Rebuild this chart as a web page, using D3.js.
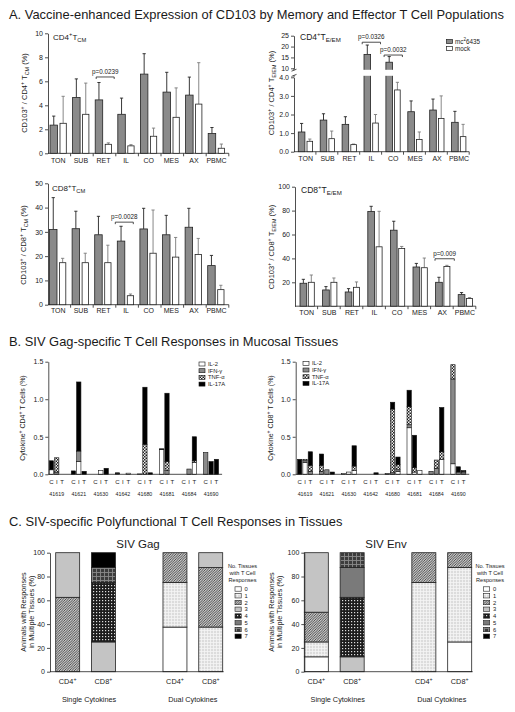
<!DOCTYPE html>
<html><head><meta charset="utf-8">
<script src="https://cdn.jsdelivr.net/npm/d3@7"></script>
<style>
body{margin:0;background:#fff}
svg{display:block}
text{font-family:"Liberation Sans",Arial,sans-serif;fill:#1a1a1a}
</style>
</head><body>
<svg id="c" width="515" height="712"></svg>
<script>
// ---------------- DATA ----------------
const tissues = ["TON","SUB","RET","IL","CO","MES","AX","PBMC"];
const groupNames = ["mc²6435","mock"];
// Panel A: CD103+ percentages (mean) and upper error (SEM)
const cd4cmVac = [2.35,4.65,4.45,3.25,6.6,5.1,4.85,1.65];
const cd4cmVacSem = [0.75,1.55,1.45,1.35,1.7,1.65,1.5,0.5];
const cd4cmMock = [2.5,3.25,0.75,0.62,1.42,3.0,4.1,0.42];
const cd4cmMockSem = [2.25,2.6,0.12,0.1,0.68,2.45,3.45,0.35];

const cd4emVac = [1.06,1.70,1.47,16.4,12.8,2.15,2.24,1.58];
const cd4emVacSem = [0.46,0.34,0.41,4.3,2.6,0.58,0.59,0.59];
const cd4emMock = [0.56,0.70,0.38,1.54,3.32,0.66,1.79,0.81];
const cd4emMockSem = [0.12,0.41,0.03,0.46,0.41,0.40,1.21,0.66];

const cd8cmVac = [31.0,31.3,28.8,26.2,31.2,28.8,31.9,16.1];
const cd8cmVacSem = [13.1,7.2,7.6,6.1,8.5,8.0,7.8,4.2];
const cd8cmMock = [17.3,17.3,17.3,3.7,21.2,19.6,20.7,6.2];
const cd8cmMockSem = [1.8,3.9,7.2,0.7,17.8,8.1,6.6,1.8];

const cd8emVac = [19.2,13.6,11.9,79.2,63.6,32.8,20.0,9.7];
const cd8emVacSem = [3.3,2.8,2.8,4.4,7.5,3.0,4.2,1.7];
const cd8emMock = [20.0,20.0,15.8,49.7,48.3,32.2,33.3,6.4];
const cd8emMockSem = [6.1,3.6,4.5,29.7,1.7,8.1,0.9,0.8];

const cd4cmTicks = [0,2,4,6,8,10];
const cd4emTicksLow = [0,1,2,3,4];
const cd4emTicksHigh = [10,15,20,25];
const cd8cmTicks = [0,10,20,30,40,50];
const cd8emTicks = [20,40,60,80,100];

// p-value annotations: [tissue, y value, label]
const pCd4cm = [["RET",6.36,"p=0.0239"]];
const pCd4em = [["IL",22,"p=0.0326"],["CO",16.1,"p=0.0032"]];
const pCd8cm = [["IL",34,"p=0.0028"]];
const pCd8em = [["AX",39.7,"p=0.009"]];

// Panel B: cytokine+ T cells (%) per animal, per tissue [C, I, T]
const animals = ["41619","41621","41630","41642","41680","41681","41684","41690"];
const tissuesB = ["C","I","T"];
const cytokines = ["IL-2","IFN-γ","TNF-α","IL-17A"];
const cd4IL2  = [[0.06,0,0],[0,0.17,0],[0,0.05,0],[0.01,0,0.015],[0,0,0],[0.33,0,0],[0,0,0.16],[0,0,0]];
const cd4IFN  = [[0,0.03,0],[0,0.14,0],[0,0,0],[0,0,0],[0.005,0,0],[0,0.05,0],[0,0.07,0],[0.29,0,0]];
const cd4TNF  = [[0,0.19,0],[0,0,0],[0,0,0],[0,0,0],[0,0.40,0],[0,0.12,0],[0,0,0.02],[0,0,0]];
const cd4IL17 = [[0.12,0,0],[0.045,0.92,0.04],[0,0,0.08],[0.01,0,0],[0,0.76,0.02],[0.01,0.91,0],[0,0,0.32],[0,0.17,0.20]];
const cd8IL2  = [[0,0.16,0],[0,0,0],[0.01,0.03,0.05],[0,0,0],[0,0,0.04],[0.62,0.03,0.05],[0,0,0.20],[0.14,0,0]];
const cd8IFN  = [[0,0.02,0.04],[0.04,0.06,0],[0,0,0],[0,0,0],[0.01,0.02,0.02],[0.04,0,0],[0.04,0.08,0],[1.13,0.03,0.02]];
const cd8TNF  = [[0,0.02,0.08],[0.08,0,0],[0,0,0.06],[0,0,0],[0,0.85,0.07],[0.24,0.06,0],[0,0.11,0.10],[0.19,0,0.02]];
const cd8IL17 = [[0.20,0,0.18],[0.15,0,0.03],[0,0,0.27],[0,0,0.02],[0,0.09,0.10],[0.22,0.43,0],[0,0,0.59],[0,0.07,0.01]];
const bTicks = [0,0.5,1.0,1.5];

// Panel C: % animals by number of tissues with responses (0..7)
const tissueCounts = ["0","1","2","3","4","5","6","7"];
const cSlots = ["CD4+ Single","CD8+ Single","gap","CD4+ Dual","CD8+ Dual"];
const gagSingleCD4 = [0,0,62.5,37.5,0,0,0,0];
const gagSingleCD8 = [0,0,0,25,50,0,12.5,12.5];
const gagDualCD4   = [37.5,37.5,25,0,0,0,0,0];
const gagDualCD8   = [0,37.5,50,12.5,0,0,0,0];
const envSingleCD4 = [12.5,12.5,25,50,0,0,0,0];
const envSingleCD8 = [0,0,0,12.5,50,25,12.5,0];
const envDualCD4   = [0,75,25,0,0,0,0,0];
const envDualCD8   = [25,62.5,12.5,0,0,0,0,0];
const cTicks = [0,20,40,60,80,100];

// ---------------- DRAWING ----------------
const svg = d3.select('#c');
const defs = svg.append('defs');
function pat(id, w, h, bg, draw){
  const p = defs.append('pattern').attr('id',id).attr('patternUnits','userSpaceOnUse').attr('width',w).attr('height',h);
  p.append('rect').attr('width',w).attr('height',h).attr('fill',bg);
  draw(p);
}
pat('tnf',3,3,'#f4f4f4',p=>{
  p.append('rect').attr('width',1.5).attr('height',1.5).attr('fill','#222');
  p.append('rect').attr('x',1.5).attr('y',1.5).attr('width',1.5).attr('height',1.5).attr('fill','#222');
});
pat('c1',3,3,'#dcdcdc',p=>{
  p.append('rect').attr('width',3).attr('height',0.8).attr('fill','#f6f6f6');
  p.append('rect').attr('width',0.8).attr('height',3).attr('fill','#f6f6f6');
});
pat('c2',2.5,2.5,'#fff',p=>{
  p.append('path').attr('d','M-1,1 L1,-1 M0,2.5 L2.5,0 M1.5,3.5 L3.5,1.5').attr('stroke','#2a2a2a').attr('stroke-width',0.85);
});
pat('c4',3,3,'#1c1c1c',p=>{
  p.append('rect').attr('width',1.2).attr('height',1.2).attr('fill','#ddd');
});
pat('c6',4,4,'#3c3c3c',p=>{
  p.append('rect').attr('width',4).attr('height',0.9).attr('fill','#8a8a8a');
  p.append('rect').attr('width',0.9).attr('height',4).attr('fill','#8a8a8a');
});
const cFills = ['#ffffff','url(#c1)','url(#c2)','#c4c4c4','url(#c4)','#7a7a7a','url(#c6)','#000000'];
const bFills = ['#ffffff','#8a8a8a','url(#tnf)','#000000'];

function rich(sel, parts, fs){
  let shift = 0;
  parts.forEach(([s,t])=>{
    const target = t==='sup' ? -0.38*fs : (t==='sub' ? 0.28*fs : 0);
    sel.append('tspan').attr('dy', target-shift).attr('font-size', t==='n'?fs:fs*0.72).text(s);
    shift = target;
  });
}
function styleAxis(g){
  g.selectAll('path.domain').attr('stroke','#222').attr('stroke-width',0.8);
  g.selectAll('.tick line').attr('stroke','#222').attr('stroke-width',0.8);
  g.selectAll('.tick text').attr('font-size',7).attr('fill','#222').attr('font-family','"Liberation Sans",Arial,sans-serif');
}

// Titles
svg.append('text').attr('x',9).attr('y',18.5).attr('font-size',12.9).text('A.  Vaccine-enhanced Expression of CD103 by Memory and Effector T Cell Populations');
svg.append('text').attr('x',9).attr('y',345.5).attr('font-size',12.9).text('B.  SIV Gag-specific T Cell Responses in Mucosal Tissues');
svg.append('text').attr('x',9).attr('y',525.5).attr('font-size',12.9).text('C.  SIV-specific Polyfunctional T Cell Responses in Tissues');

// ---------- Panel A ----------
function panelA(c){
  const g = svg.append('g');
  const xb = d3.scaleBand().domain(tissues).range([c.x0, c.x0 + 8*c.step]);
  const y = c.y;
  const base = y(0);
  g.append('line').attr('x1',c.x0).attr('x2',c.x0+8*c.step).attr('y1',base).attr('y2',base).attr('stroke','#222').attr('stroke-width',0.8);
  tissues.forEach((t,i)=>{
    const xx = xb(t)+c.step;
    g.append('line').attr('x1',xx).attr('x2',xx).attr('y1',base).attr('y2',base+3).attr('stroke','#222').attr('stroke-width',0.8);
    g.append('text').attr('x',xb(t)+c.labOff).attr('y',c.labY).attr('text-anchor','middle').attr('font-size',7).text(t);
  });
  c.axes(g);
  const series = [
    {vals:c.vac, sem:c.vacSem, off:c.offD, w:c.wD, fill:'#8a8a8a', err:'#222'},
    {vals:c.mock, sem:c.mockSem, off:c.offW, w:c.wW, fill:'#ffffff', err:'#7a7a7a'}
  ];
  series.forEach(s=>{
    tissues.forEach((t,i)=>{
      const x = xb(t)+s.off, v = s.vals[i], top = y(v), et = y(v+s.sem[i]);
      const cx = x + s.w/2;
      g.append('line').attr('x1',cx).attr('x2',cx).attr('y1',top).attr('y2',et).attr('stroke',s.err).attr('stroke-width',0.9);
      g.append('line').attr('x1',cx-1.6).attr('x2',cx+1.6).attr('y1',et).attr('y2',et).attr('stroke',s.err).attr('stroke-width',0.9);
      g.append('rect').attr('x',x).attr('y',top).attr('width',s.w).attr('height',base-top)
        .attr('fill',s.fill).attr('stroke','#222').attr('stroke-width',0.8);
      if (c.breakGap && v > c.breakGap[2]) {
        g.append('rect').attr('x',x-1).attr('y',c.breakGap[0]).attr('width',s.w+2).attr('height',c.breakGap[1]-c.breakGap[0]).attr('fill','#fff');
      }
    });
  });
  c.pvals.forEach(([t,v,lab])=>{
    const x1 = xb(t)+c.pOff[0], x2 = xb(t)+c.pOff[1], yy = y(v);
    g.append('path').attr('d',`M${x1},${yy+2}V${yy}H${x2}V${yy+2}`).attr('fill','none').attr('stroke','#222').attr('stroke-width',0.8);
    g.append('text').attr('x',(x1+x2)/2).attr('y',yy-3).attr('text-anchor','middle').attr('font-size',6.3).text(lab);
  });
  const tt = g.append('text').attr('x',c.titleX).attr('y',c.titleY);
  rich(tt, c.title, c.titleFs || 8);
  const yl = g.append('text').attr('transform',`translate(${c.ylX},${c.ylY}) rotate(-90)`).attr('text-anchor','middle');
  rich(yl, c.ylab, 7.5);
  return {g, xb};
}

function stdAxis(y, ticks, x0){
  return g=>{
    const a = g.append('g').attr('transform',`translate(${x0},0)`).call(d3.axisLeft(y).tickValues(ticks).tickSize(3).tickSizeOuter(0).tickPadding(2));
    styleAxis(a);
  };
}

// A1: CD4+ TCM
const yA1 = d3.scaleLinear().domain([0,10]).range([153.3,33.3]);
panelA({x0:48, step:22.6, y:yA1, offD:2, wD:7.5, offW:12, wW:6.3, labOff:10.3, labY:162.5,
  vac:cd4cmVac, vacSem:cd4cmVacSem, mock:cd4cmMock, mockSem:cd4cmMockSem,
  axes:stdAxis(yA1, cd4cmTicks, 48), pvals:pCd4cm, pOff:[3,21],
  title:[['CD4','n'],['+','sup'],['T','n'],['CM','sub']], titleX:53, titleY:39.5,
  ylab:[['CD103','n'],['+','sup'],[' / CD4','n'],['+','sup'],[' T','n'],['CM','sub'],[' (%)','n']], ylX:27, ylY:93});

// A2: CD4+ TE/EM (broken axis)
const yA2lo = d3.scaleLinear().domain([0,4]).range([151.7,77.3]);
const yA2hi = d3.scaleLinear().domain([10,25]).range([68.3,35.7]);
const yA2 = v => v <= 4 ? yA2lo(v) : yA2hi(v);
panelA({x0:294, step:21.9, y:yA2, offD:4.3, wD:6.6, offW:13, wW:5.6, labOff:11.7, labY:161,
  vac:cd4emVac, vacSem:cd4emVacSem, mock:cd4emMock, mockSem:cd4emMockSem,
  breakGap:[69.8,75.8,4],
  axes:g=>{
    const a1 = g.append('g').attr('transform','translate(294,0)').call(d3.axisLeft(yA2lo).tickValues(cd4emTicksLow).tickSize(3).tickSizeOuter(0).tickPadding(2));
    const a2 = g.append('g').attr('transform','translate(294,0)').call(d3.axisLeft(yA2hi).tickValues(cd4emTicksHigh).tickSize(3).tickSizeOuter(0).tickPadding(2));
    styleAxis(a1); styleAxis(a2);
    g.append('line').attr('x1',294).attr('x2',294).attr('y1',68.3).attr('y2',70.2).attr('stroke','#222').attr('stroke-width',0.8);
    g.append('line').attr('x1',294).attr('x2',294).attr('y1',75.4).attr('y2',77.3).attr('stroke','#222').attr('stroke-width',0.8);
    g.append('path').attr('d','M291.5,71.2L296.5,69.2M291.5,76.4L296.5,74.4').attr('stroke','#222').attr('stroke-width',0.8);
  },
  pvals:pCd4em, pOff:[2.5,20.8],
  title:[['CD4','n'],['+','sup'],['T','n'],['E/EM','sub']], titleX:300, titleY:39.5, titleFs:8.5,
  ylab:[['CD103','n'],['+','sup'],[' / CD4','n'],['+','sup'],[' T','n'],['E/EM','sub'],[' (%)','n']], ylX:273.5, ylY:93});

// A2 legend
[['#8a8a8a','mc','2','6435',39.5],['#ffffff','mock',null,null,46.5]].forEach(([f,a,b,cc,yy])=>{
  svg.append('rect').attr('x',446.5).attr('y',yy).attr('width',6).attr('height',4).attr('fill',f).attr('stroke','#222').attr('stroke-width',0.7);
  const t = svg.append('text').attr('x',455).attr('y',yy+4).attr('font-size',6.3);
  t.append('tspan').text(a);
  if (b){ t.append('tspan').attr('dy',-2.2).attr('font-size',4.5).text(b); t.append('tspan').attr('dy',2.2).text(cc); }
});

// A3: CD8+ TCM
const yA3 = d3.scaleLinear().domain([0,50]).range([304.7,183.3]);
panelA({x0:48, step:22.6, y:yA3, offD:1.5, wD:7.5, offW:11.5, wW:6.3, labOff:10.3, labY:312.5,
  vac:cd8cmVac, vacSem:cd8cmVacSem, mock:cd8cmMock, mockSem:cd8cmMockSem,
  axes:stdAxis(yA3, cd8cmTicks, 48), pvals:pCd8cm, pOff:[-0.5,17.5],
  title:[['CD8','n'],['+','sup'],['T','n'],['CM','sub']], titleX:52, titleY:191,
  ylab:[['CD103','n'],['+','sup'],[' / CD8','n'],['+','sup'],[' T','n'],['CM','sub'],[' (%)','n']], ylX:25.5, ylY:245});

// A4: CD8+ TE/EM
const yA4 = d3.scaleLinear().domain([0,100]).range([306.2,186.7]);
panelA({x0:295, step:22.6, y:yA4, offD:5, wD:6.7, offW:13.3, wW:6, labOff:11.7, labY:315,
  vac:cd8emVac, vacSem:cd8emVacSem, mock:cd8emMock, mockSem:cd8emMockSem,
  axes:stdAxis(yA4, cd8emTicks, 295), pvals:pCd8em, pOff:[4.4,23.7],
  title:[['CD8','n'],['+','sup'],['T','n'],['E/EM','sub']], titleX:301, titleY:192.5, titleFs:8.5,
  ylab:[['CD103','n'],['+','sup'],[' / CD8','n'],['+','sup'],[' T','n'],['E/EM','sub'],[' (%)','n']], ylX:274, ylY:247});

// ---------- Panel B ----------
function panelB(c){
  const g = svg.append('g');
  const xa = d3.scaleBand().domain(animals).range(c.range);
  const xt = d3.scalePoint().domain(tissuesB).range([-5.35,5.35]);
  const y = d3.scaleLinear().domain([0,1.5]).range([474.3,361.7]);
  const rows = [];
  animals.forEach((a,i)=>tissuesB.forEach((t,j)=>{
    rows.push({a, t, 'IL-2':c.il2[i][j], 'IFN-γ':c.ifn[i][j], 'TNF-α':c.tnf[i][j], 'IL-17A':c.il17[i][j]});
  }));
  const stack = d3.stack().keys(cytokines)(rows);
  stack.forEach((layer,k)=>{
    layer.forEach(d=>{
      if (d[1]-d[0] <= 0) return;
      const cx = xa(d.data.a)+xa.bandwidth()/2+xt(d.data.t);
      g.append('rect').attr('x',cx-2.15).attr('width',4.3).attr('y',y(d[1])).attr('height',y(d[0])-y(d[1]))
        .attr('fill',bFills[k]).attr('stroke','#111').attr('stroke-width',0.6);
    });
  });
  const ax = g.append('g').attr('transform',`translate(${c.x0},0)`).call(d3.axisLeft(y).tickValues(bTicks).tickFormat(d3.format('.1f')).tickSize(3).tickSizeOuter(0).tickPadding(2));
  styleAxis(ax);
  g.append('line').attr('x1',c.x0).attr('x2',c.range[1]).attr('y1',y(0)).attr('y2',y(0)).attr('stroke','#222').attr('stroke-width',0.8);
  animals.forEach(a=>{
    tissuesB.forEach(t=>{
      g.append('text').attr('x',xa(a)+xa.bandwidth()/2+xt(t)).attr('y',483.5).attr('text-anchor','middle').attr('font-size',6).text(t);
    });
    g.append('text').attr('x',xa(a)+xa.bandwidth()/2).attr('y',496).attr('text-anchor','middle').attr('font-size',5.3).text(a);
  });
  cytokines.forEach((k,i)=>{
    const yy = c.legY + i*6.7;
    g.append('rect').attr('x',c.legX).attr('y',yy-2).attr('width',6).attr('height',4).attr('fill',bFills[i]).attr('stroke','#111').attr('stroke-width',0.6);
    g.append('text').attr('x',c.legX+9).attr('y',yy+2).attr('font-size',5.8).text(k);
  });
  const yl = g.append('text').attr('transform',`translate(${c.ylX},418) rotate(-90)`).attr('text-anchor','middle');
  rich(yl, c.ylab, 7);
}
panelB({x0:48.3, range:[45.7,222.1], il2:cd4IL2, ifn:cd4IFN, tnf:cd4TNF, il17:cd4IL17, legX:199, legY:364,
  ylX:24.5, ylab:[['Cytokine','n'],['+','sup'],[' CD4','n'],['+','sup'],[' T Cells (%)','n']]});
panelB({x0:295.7, range:[294.05,469.25], il2:cd8IL2, ifn:cd8IFN, tnf:cd8TNF, il17:cd8IL17, legX:303, legY:363.3,
  ylX:272.5, ylab:[['Cytokine','n'],['+','sup'],[' CD8','n'],['+','sup'],[' T Cells (%)','n']]});

// ---------- Panel C ----------
function panelC(c){
  const g = svg.append('g');
  const x = d3.scaleBand().domain(cSlots).range([c.x0b, c.x1b]).paddingInner(0.33).paddingOuter(0);
  const y = d3.scaleLinear().domain([0,100]).range([671.7,552.7]);
  const rows = c.data.map((arr,i)=>{ const o = {slot:cSlots[[0,1,3,4][i]]}; tissueCounts.forEach((k,j)=>o[k]=arr[j]); return o; });
  const st = d3.stack().keys(tissueCounts)(rows);
  st.forEach((layer,k)=>layer.forEach(d=>{
    if (d[1]-d[0] <= 0) return;
    g.append('rect').attr('x',x(d.data.slot)).attr('width',x.bandwidth()).attr('y',y(d[1])).attr('height',y(d[0])-y(d[1]))
      .attr('fill',cFills[k]).attr('stroke','#222').attr('stroke-width',0.8);
  }));
  const ax = g.append('g').attr('transform',`translate(${c.xAxis},0)`).call(d3.axisLeft(y).tickValues(cTicks).tickSize(3).tickSizeOuter(0).tickPadding(2));
  styleAxis(ax);
  g.append('line').attr('x1',c.xAxis).attr('x2',c.x1b+1).attr('y1',y(0)).attr('y2',y(0)).attr('stroke','#222').attr('stroke-width',0.8);
  [0,1,3,4].forEach(i=>{
    const s = cSlots[i];
    const t = g.append('text').attr('x',x(s)+x.bandwidth()/2).attr('y',683.5).attr('text-anchor','middle');
    rich(t, [[s.slice(0,3),'n'],['+','sup']], 7.3);
  });
  g.append('text').attr('x',(x(cSlots[0])+x(cSlots[1])+x.bandwidth())/2+3.5).attr('y',701.5).attr('text-anchor','middle').attr('font-size',7.3).text('Single Cytokines');
  g.append('text').attr('x',(x(cSlots[3])+x(cSlots[4])+x.bandwidth())/2).attr('y',701.5).attr('text-anchor','middle').attr('font-size',7.3).text('Dual Cytokines');
  g.append('text').attr('x',c.titleX).attr('y',547.5).attr('text-anchor','middle').attr('font-size',11.5).text(c.title);
  const yl = g.append('text').attr('transform',`translate(${c.ylX},612) rotate(-90)`).attr('text-anchor','middle').attr('font-size',7.3);
  yl.append('tspan').attr('x',0).attr('dy',0).text('Animals with Responses');
  yl.append('tspan').attr('x',0).attr('dy',8.3).text('in Multiple Tissues (%)');
  ['No. Tissues','with T Cell','Responses'].forEach((s,i)=>{
    g.append('text').attr('x',c.legTX).attr('y',568+i*7).attr('text-anchor','middle').attr('font-size',5.6).text(s);
  });
  tissueCounts.forEach((k,i)=>{
    const yy = 589 + i*6.75;
    g.append('rect').attr('x',c.legX).attr('y',yy-2.2).attr('width',6.2).attr('height',4.4).attr('fill',cFills[i]).attr('stroke','#222').attr('stroke-width',0.6);
    g.append('text').attr('x',c.legX+9.5).attr('y',yy+2.2).attr('font-size',5.8).text(k);
  });
}
panelC({x0b:55.7, x1b:222.7, xAxis:50, data:[gagSingleCD4,gagSingleCD8,gagDualCD4,gagDualCD8], title:'SIV Gag', titleX:138,
  ylX:25.5, legX:235, legTX:242.5});
panelC({x0b:304.3, x1b:471.7, xAxis:304.3, data:[envSingleCD4,envSingleCD8,envDualCD4,envDualCD8], title:'SIV Env', titleX:386,
  ylX:273.5, legX:483.5, legTX:490});
</script>
</body></html>
